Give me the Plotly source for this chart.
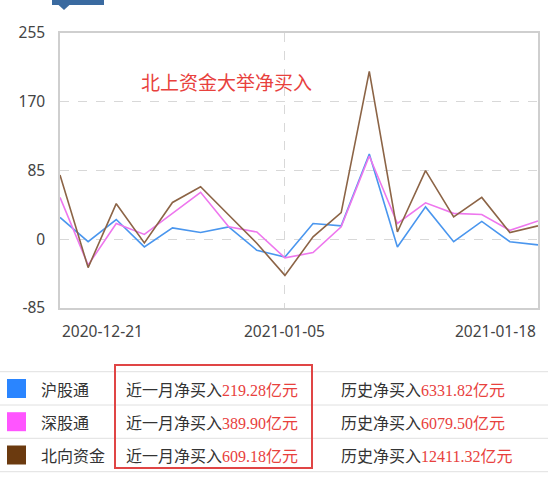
import plotly.graph_objects as go

# ---------------- data ----------------
# 18 northbound trading days (index 0 = 2020-12-21, index 8 = 2021-01-05, index 17 = 2021-01-18)
dates = ["2020-12-21", "2020-12-22", "2020-12-23", "2020-12-28", "2020-12-29",
         "2020-12-30", "2020-12-31", "2021-01-04", "2021-01-05", "2021-01-06",
         "2021-01-07", "2021-01-08", "2021-01-11", "2021-01-12", "2021-01-13",
         "2021-01-14", "2021-01-15", "2021-01-18"]
sh_values = [27, -3, 24.4, -9.5, 14, 8.3, 15.3, -13.6, -22, 19.5, 16.5, 105.5,
             -9.5, 40, -3, 22, -3, -7]
sz_values = [51.7, -32, 19.5, 6, 32, 58, 15.3, 9, -23, -16.5, 15.3, 103,
             19.5, 45, 32, 30.6, 11, 22.7]
north_values = [79.4, -35, 44, -4.6, 45.5, 65, 30, -5, -44.7, 3, 33, 207.6,
                9, 84.8, 27.7, 51.7, 8.3, 16.5]

series_names = ["沪股通", "深股通", "北向资金"]
line_colors = ["#4a96ee", "#ee77ee", "#8c6446"]
square_colors = ["#2a85ff", "#ff55ff", "#6b3a0f"]
month_net = ["219.28", "389.90", "609.18"]
hist_net = ["6331.82", "6079.50", "12411.32"]

y_ticks = [255, 170, 85, 0, -85]
x_label_dates = ["2020-12-21", "2021-01-05", "2021-01-18"]
title_text = "北上资金大举净买入"

# ---------------- layout geometry ----------------
W, H = 553, 477
ML, MR, MT, MB = 60, 15, 33, 169
PW = W - ML - MR
PH = H - MT - MB


def px(x):
    return (x - ML) / PW


def py(y):
    return (H - MB - y) / PH


fig = go.Figure()
for name, vals, col in zip(series_names, [sh_values, sz_values, north_values], line_colors):
    fig.add_trace(go.Scatter(x=dates, y=vals, mode="lines", name=name,
                             line=dict(color=col, width=1.6), showlegend=False))

fig.update_layout(
    width=W, height=H,
    margin=dict(l=ML, r=MR, t=MT, b=MB),
    paper_bgcolor="white", plot_bgcolor="white",
    font=dict(family="Noto Sans CJK SC, Noto Sans, sans-serif", color="#333"),
)
fig.update_xaxes(
    type="category", range=[0, len(dates) - 1],
    tickvals=x_label_dates, showticklabels=False, ticks="",
    showgrid=True, gridcolor="#d8d8d8", griddash="dash", gridwidth=1,
    showline=True, linecolor="#cfcfcf", linewidth=1.5, mirror=True,
    zeroline=False,
)
fig.update_yaxes(
    range=[-85, 255], tickvals=y_ticks, ticktext=[str(v) for v in y_ticks],
    ticks="outside", ticklen=10, tickcolor="rgba(0,0,0,0)",
    tickfont=dict(size=15.5, color="#444", family="Noto Sans, sans-serif"),
    showgrid=True, gridcolor="#d8d8d8", griddash="dash", gridwidth=1,
    showline=True, linecolor="#cfcfcf", linewidth=1.5, mirror=True,
    zeroline=False,
)

ann = []
# x date labels (edge labels aligned inside the plot like the reference)
anchors = ["left", "center", "right"]
for d, a in zip(x_label_dates, anchors):
    ann.append(dict(x=d, y=py(331), xref="x", yref="paper", text=d, showarrow=False,
                    xanchor=a, yanchor="middle",
                    font=dict(size=15.5, color="#444", family="Noto Sans, sans-serif")))
# title in chart
ann.append(dict(x=px(139), y=py(81), xref="paper", yref="paper", text=title_text,
                showarrow=False, xanchor="left", yanchor="middle",
                font=dict(size=19, color="#e8413d")))

shapes = []
# top tab
shapes.append(dict(type="rect", xref="paper", yref="paper", x0=px(52), x1=px(104),
                   y0=py(5), y1=py(-2), fillcolor="#3a6aa0", line=dict(width=0)))
shapes.append(dict(type="path", xref="paper", yref="paper",
                   path=f"M {px(58)} {py(4.5)} L {px(70)} {py(4.5)} L {px(64)} {py(10)} Z",
                   fillcolor="#3a6aa0", line=dict(width=0)))

# table
row_lines = [371.7, 405, 438.3, 471.7]
for yl in row_lines:
    shapes.append(dict(type="line", xref="paper", yref="paper", x0=px(0), x1=px(548),
                       y0=py(yl), y1=py(yl), line=dict(color="#e0e0e0", width=1)))
row_centers = [388.5, 421.7, 455]
red = "#e8413d"
for i in range(3):
    yc = row_centers[i]
    shapes.append(dict(type="rect", xref="paper", yref="paper", x0=px(7), x1=px(26),
                       y0=py(yc + 9.5), y1=py(yc - 9.5), fillcolor=square_colors[i],
                       line=dict(width=0)))
    ann.append(dict(x=px(39), y=py(yc), xref="paper", yref="paper", text=series_names[i],
                    showarrow=False, xanchor="left", yanchor="middle",
                    font=dict(size=16, color="#333")))
    ann.append(dict(x=px(124), y=py(yc), xref="paper", yref="paper",
                    text=f"近一月净买入<span style='color:{red};font-family:Liberation Serif, Noto Sans CJK SC'>{month_net[i]}</span><span style='color:{red}'>亿元</span>",
                    showarrow=False, xanchor="left", yanchor="middle",
                    font=dict(size=16, color="#333")))
    ann.append(dict(x=px(339), y=py(yc), xref="paper", yref="paper",
                    text=f"历史净买入<span style='color:{red};font-family:Liberation Serif, Noto Sans CJK SC'>{hist_net[i]}</span><span style='color:{red}'>亿元</span>",
                    showarrow=False, xanchor="left", yanchor="middle",
                    font=dict(size=16, color="#333")))
# red highlight box
shapes.append(dict(type="rect", xref="paper", yref="paper", x0=px(115), x1=px(312),
                   y0=py(468), y1=py(365), line=dict(color="#e04545", width=2),
                   fillcolor="rgba(0,0,0,0)"))

fig.update_layout(annotations=ann, shapes=shapes)
fig.write_html("out.html")
